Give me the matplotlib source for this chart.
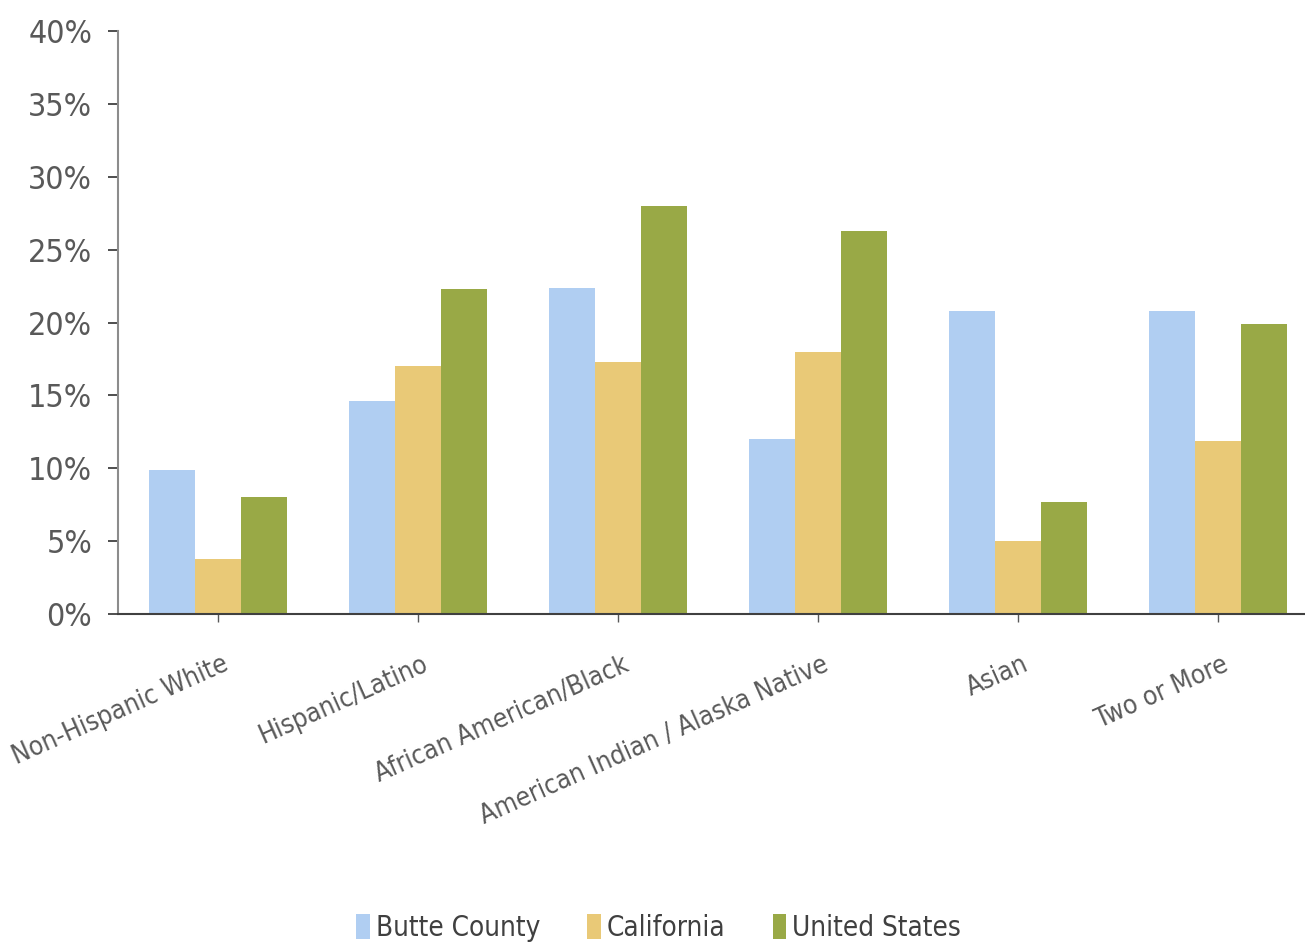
import numpy as np
import matplotlib.pyplot as plt
import matplotlib.transforms as mtransforms

# Data per kelompok ras/etnis
categories = ['Non-Hispanic White', 'Hispanic/Latino', 'African American/Black',
              'American Indian / Alaska Native', 'Asian', 'Two or More']
butte = [9.9, 14.6, 22.4, 12.0, 20.8, 20.8]
california = [3.8, 17.0, 17.3, 18.0, 5.0, 11.9]
united_states = [8.0, 22.3, 28.0, 26.3, 7.7, 19.9]
series_names = ['Butte County', 'California', 'United States']
y_ticks = [0, 5, 10, 15, 20, 25, 30, 35, 40]

colors = ['#b0cef2', '#e9c977', '#99a946']
plt.rcParams['font.family'] = ['DejaVu Sans']
plt.rcParams['font.stretch'] = 'condensed'

fig = plt.figure(figsize=(13.05, 9.47), dpi=100)
ax = fig.add_axes([118 / 1305, 333 / 947, 1200 / 1305, 583 / 947])

x = np.arange(len(categories))
width = 0.23
for i, (vals, name) in enumerate(zip([butte, california, united_states], series_names)):
    ax.bar(x + (i - 1) * width, vals, width, color=colors[i], label=name)

ax.set_xlim(-0.5, len(categories) - 0.5)
ax.set_ylim(0, 40)
ax.set_yticks(y_ticks)
ax.set_yticklabels([f'{t}%' for t in y_ticks])

# Sumbu dan tick
for side in ['top', 'right']:
    ax.spines[side].set_visible(False)
ax.spines['left'].set_color('#8c8c8c')
ax.spines['left'].set_linewidth(1.5)
ax.spines['bottom'].set_color('#404040')
ax.spines['bottom'].set_linewidth(1.5)
ax.tick_params(axis='y', length=7.5, width=1.3, color='#404040', pad=11,
               labelsize=23, labelcolor='#595959')
ax.tick_params(axis='x', length=6, width=1.0, color='#595959', pad=21,
               labelsize=19, labelcolor='#595959')

ax.set_xticks(x)
ax.set_xticklabels(categories, rotation=24, ha='right', rotation_mode='anchor')
shift = mtransforms.ScaledTranslation(4 / 100, 0, fig.dpi_scale_trans)
for lbl in ax.get_xticklabels():
    lbl.set_transform(lbl.get_transform() + shift)

# Legenda di bawah
fig.legend(loc='center', bbox_to_anchor=(0.5046, 0.02), ncol=3, frameon=False,
           fontsize=20, labelcolor='#404040', handlelength=0.5, handleheight=1.0,
           handletextpad=0.2, columnspacing=1.7, borderpad=0)

fig.savefig('out.png', dpi=100)
